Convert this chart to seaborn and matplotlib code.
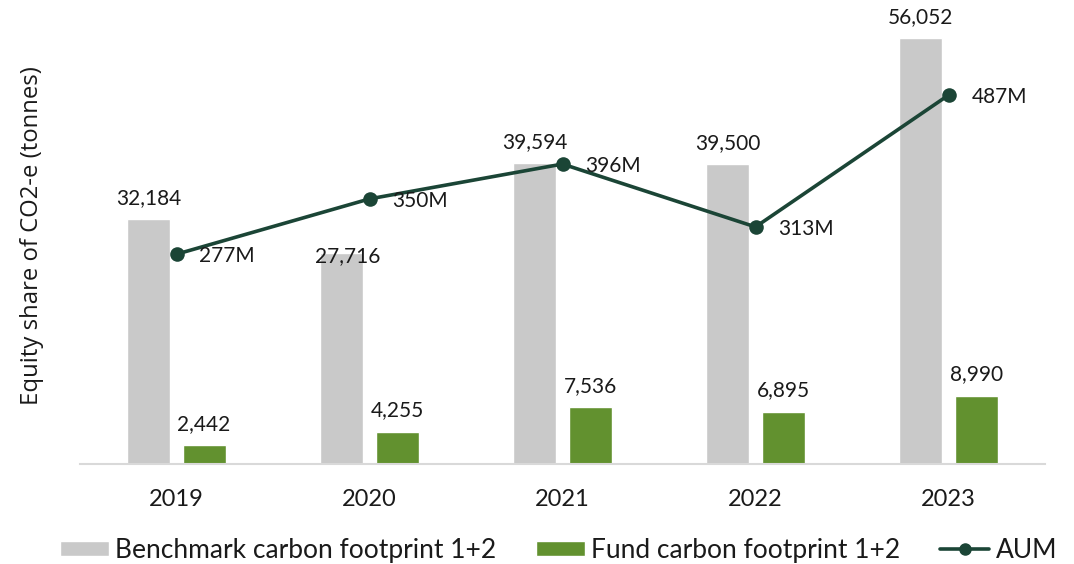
import matplotlib
matplotlib.use("Agg")
import matplotlib.pyplot as plt
from matplotlib.lines import Line2D
from matplotlib.patches import Patch
import numpy as np
import pandas as pd
import seaborn as sns

# values
years = ["2019", "2020", "2021", "2022", "2023"]
benchmark = [32184, 27716, 39594, 39500, 56052]
fund = [2442, 4255, 7536, 6895, 8990]
aum = [277, 350, 396, 313, 487]

BENCH_LABEL = "Benchmark carbon footprint 1+2"
FUND_LABEL = "Fund carbon footprint 1+2"
GREY = "#c9c9c9"
GREEN = "#62912f"
DARK = "#1b4536"
TEXT = "#1a1a1a"

sns.set_theme(style="white")
plt.rcParams["font.family"] = ["Lato", "DejaVu Sans"]

df = pd.DataFrame({
    "year": years * 2,
    "value": benchmark + fund,
    "series": [BENCH_LABEL] * len(years) + [FUND_LABEL] * len(years),
})

fig = plt.figure(figsize=(10.74, 5.64), dpi=100)
ax = fig.add_axes([0.0745, 0.1773, 0.8985, 0.8085])

sns.barplot(data=df, x="year", y="value", hue="series", ax=ax,
            palette=[GREY, GREEN], width=0.572, gap=0.22, legend=False,
            saturation=1)
for k, cont in enumerate(ax.containers):
    texts = ax.bar_label(cont, labels=[f"{v:,.0f}" for v in cont.datavalues],
                         padding=8, fontsize=15, color=TEXT)
    if k == 0:
        # the 2020 benchmark label sits lower in the original, pushed off the line
        texts[1].xyann = (4, -9)

ax.set_ylim(0, 60000)
ax.set_xlim(-0.5, 4.5)
ax.set_xlabel("")
ax.set_ylabel("Equity share of CO2-e (tonnes)", fontsize=17.2,
              family=["Open Sans", "DejaVu Sans"], labelpad=26, color=TEXT)
ax.set_yticks([])
ax.tick_params(axis="x", length=0, pad=18, labelsize=17, colors=TEXT)
for side in ["top", "right", "left"]:
    ax.spines[side].set_visible(False)
ax.spines["bottom"].set_color("#d9d9d9")
ax.spines["bottom"].set_linewidth(1.5)

ax2 = ax.twinx()
sns.lineplot(x=np.arange(len(years)), y=aum, ax=ax2, color=DARK,
             linewidth=2.6, marker="o", markersize=10.5, markeredgewidth=0)
for i, v in enumerate(aum):
    ax2.annotate(f"{v}M", (i, v), xytext=(16.5, -1.5), textcoords="offset points",
                 ha="left", va="center", fontsize=15, color=TEXT)
ax2.set_ylim(0, 602)
ax2.set_yticks([])
for side in ["top", "right", "left", "bottom"]:
    ax2.spines[side].set_visible(False)

handles = [
    Patch(facecolor=GREY, label=BENCH_LABEL),
    Patch(facecolor=GREEN, label=FUND_LABEL),
    Line2D([0], [0], color=DARK, linewidth=2.6, marker="o", markersize=8,
           label="AUM"),
]
fig.legend(handles=handles, loc="lower center", bbox_to_anchor=(0.52, -0.04),
           ncol=3, frameon=False, fontsize=19, handlelength=1.85,
           handleheight=0.55, handletextpad=0.25, columnspacing=1.5,
           labelcolor=TEXT)

fig.savefig("out.png", dpi=100)
